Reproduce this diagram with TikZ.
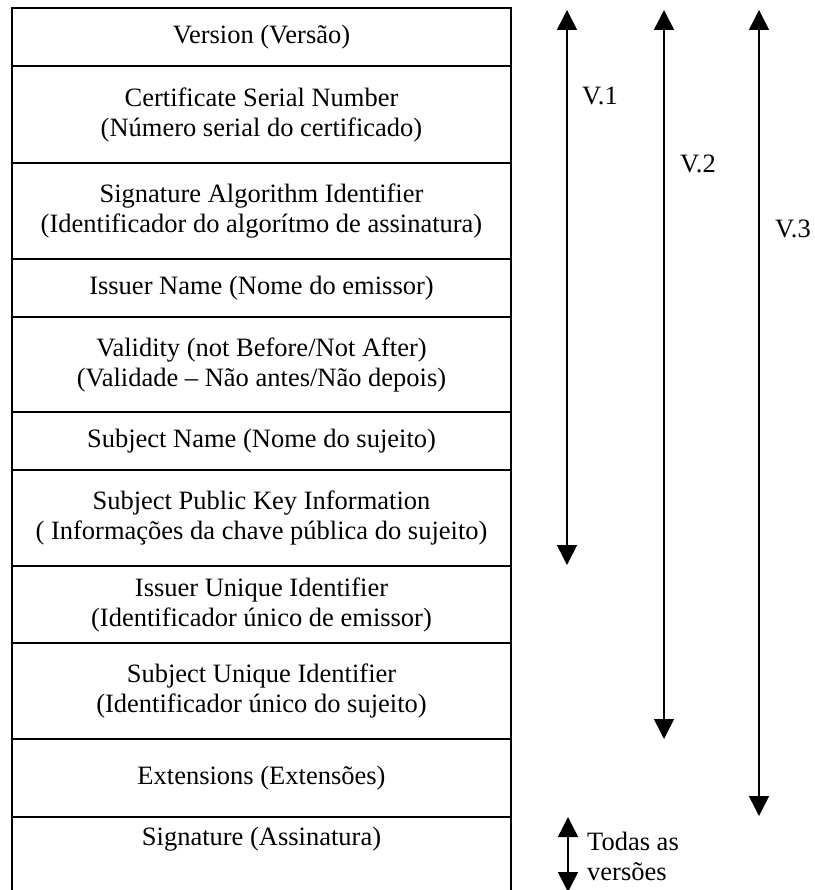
\documentclass[tikz,border=0pt]{standalone}
\usepackage{fontspec}
\setmainfont{Liberation Serif}
\usetikzlibrary{arrows.meta,positioning}

\begin{document}
\begin{tikzpicture}[x=1pt, y=-1pt, font=\fontsize{26.5}{30}\selectfont,
    row/.style={draw, line width=1.6pt, minimum width=499pt, inner sep=0pt, outer sep=0pt, align=center},
    vlabel/.style={anchor=west, inner sep=0pt},
    arrow/.style={line width=1.5pt, {Triangle[width=20pt,length=20pt]}-{Triangle[width=20pt,length=20pt]}}]

        \useasboundingbox (0,0) rectangle (814,890);

        % Certificate fields
        \node [row, minimum height=58pt] (version) at (261.5,37) {Version (Versão)};
        \node [row, minimum height=97pt, below=0pt of version] (serial) {Certificate Serial Number\\(Número serial do certificado)};
        \node [row, minimum height=96pt, below=0pt of serial] (sigalg) {Signature Algorithm Identifier\\(Identificador do algorítmo de assinatura)};
        \node [row, minimum height=58pt, below=0pt of sigalg] (issuer) {Issuer Name (Nome do emissor)};
        \node [row, minimum height=95pt, below=0pt of issuer] (validity) {Validity (not Before/Not After)\\(Validade -- Não antes/Não depois)};
        \node [row, minimum height=58pt, below=0pt of validity] (subject) {Subject Name (Nome do sujeito)};
        \node [row, minimum height=96pt, below=0pt of subject] (pubkey) {Subject Public Key Information\\( Informações da chave pública do sujeito)};
        \node [row, minimum height=77pt, below=0pt of pubkey] (issuerid) {Issuer Unique Identifier\\(Identificador único de emissor)};
        \node [row, minimum height=96pt, below=0pt of issuerid] (subjectid) {Subject Unique Identifier\\(Identificador único do sujeito)};
        \node [row, minimum height=78pt, below=0pt of subjectid] (ext) {Extensions (Extensões)};

        % Signature (open at the bottom)
        \node [inner sep=0pt, anchor=north] (sig) at (261.5,827) {Signature (Assinatura)};
        \coordinate (bottom) at (0,890);
        \draw [line width=1.6pt] (ext.south west) -- (ext.south west |- bottom);
        \draw [line width=1.6pt] (ext.south east) -- (ext.south east |- bottom);

        % Versions
        \coordinate (v1_top) at (567,10);
        \coordinate (v1_bot) at (567,565);
        \node [vlabel] (v1) at (582,96) {V.1};

        \coordinate (v2_top) at (664,10);
        \coordinate (v2_bot) at (664,739);
        \node [vlabel] (v2) at (680,164) {V.2};

        \coordinate (v3_top) at (759,10);
        \coordinate (v3_bot) at (759,816);
        \node [vlabel] (v3) at (775,229) {V.3};

        \coordinate (all_top) at (568,817);
        \coordinate (all_bot) at (568,892);
        \node [inner sep=0pt, anchor=north west, align=left] (all) at (587,832) {Todas as\\versões};

        % Arrows
        \draw [arrow] (v1_top) -- (v1_bot);
        \draw [arrow] (v2_top) -- (v2_bot);
        \draw [arrow] (v3_top) -- (v3_bot);
        \draw [arrow] (all_top) -- (all_bot);

    \end{tikzpicture}
\end{document}
